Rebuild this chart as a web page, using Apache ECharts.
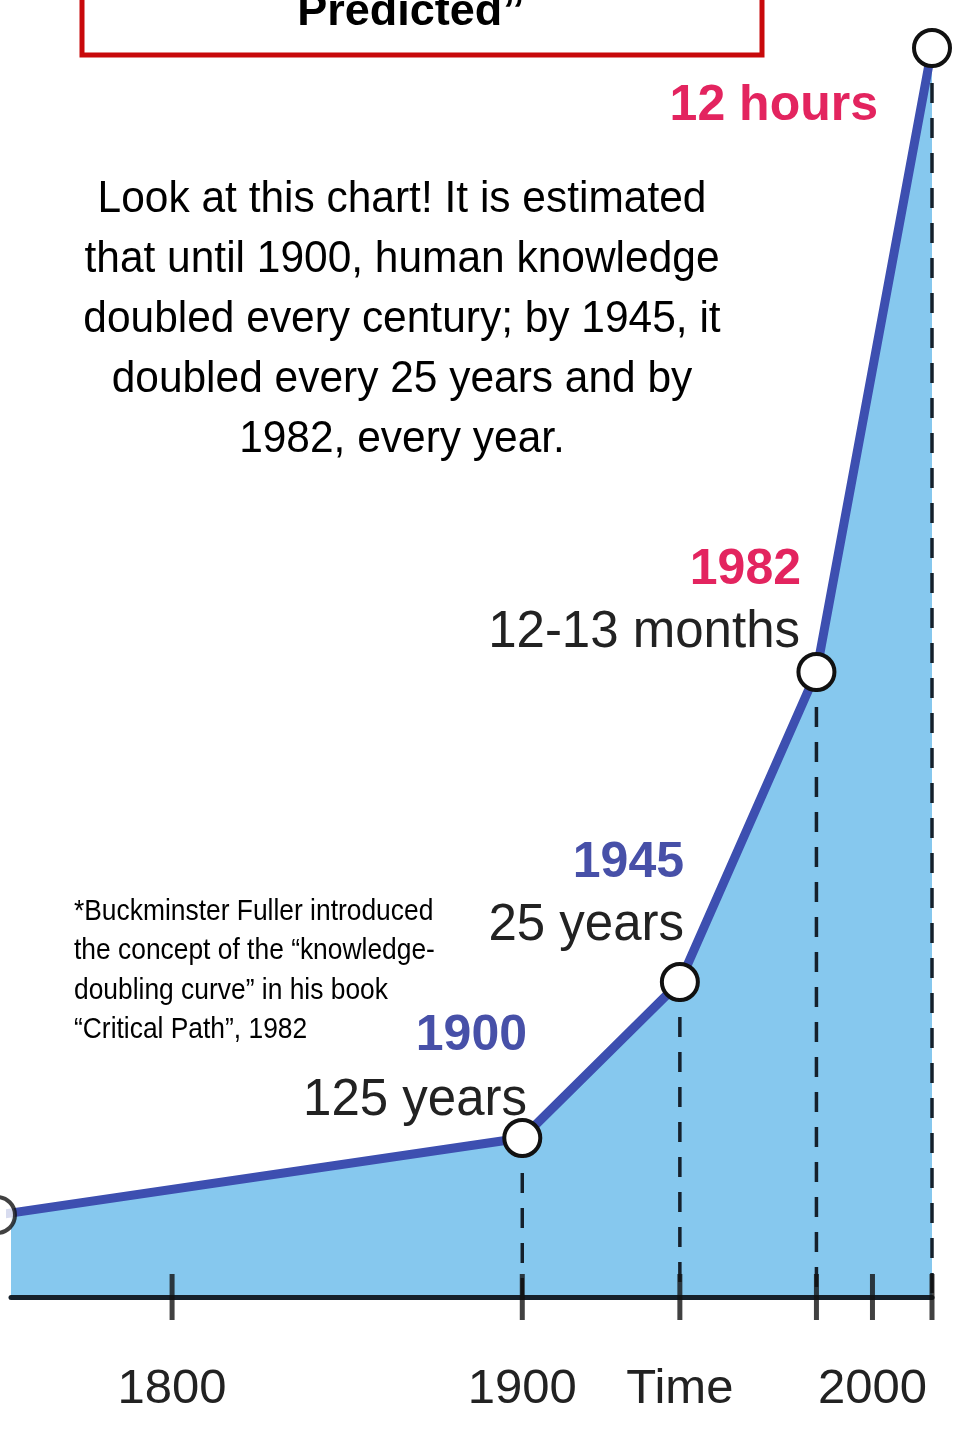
<!DOCTYPE html>
<html><head><meta charset="utf-8">
<script src="https://cdn.jsdelivr.net/npm/echarts@6/dist/echarts.min.js"></script>
<style>html,body{margin:0;padding:0;background:#fff}#c{width:970px;height:1429px}</style>
</head><body><div id="c"></div>
<script>
// Data
const years = [1750, 1900, 1945, 1984, 2017];
const knowledge = [82, 159, 315, 625, 1249];
const dropYears = [1900, 1945, 1984, 2017];
const tickYears = [1800, 1900, 1945, 1984, 2000, 2017];
const axisLabelYears = [1800, 1900, 1945, 2000];
const axisLabelTexts = ['1800', '1900', 'Time', '2000'];
const titleText = 'Predicted\u201D';
const bodyText = ['Look at this chart! It is estimated', 'that until 1900, human knowledge', 'doubled every century; by 1945, it', 'doubled every 25 years and by', '1982, every year.'];
const noteText = ['*Buckminster Fuller introduced', 'the concept of the \u201Cknowledge-', 'doubling curve\u201D in his book', '\u201CCritical Path\u201D, 1982'];
const yearTags = ['1900', '1945', '1982', '12 hours'];
const spanTags = ['125 years', '25 years', '12-13 months'];

const SANS = "'Liberation Sans',Arial,sans-serif";
const PINK = '#e3245f', BLUE = '#4750a8', DARK = '#222';

const pts = years.map((y, i) => [y, knowledge[i]]);
const lookup = {}; years.forEach((y, i) => lookup[y] = knowledge[i]);

const series = [
  { type: 'line', data: pts, symbol: 'none', lineStyle: { width: 0 }, areaStyle: { color: '#86c8ee', opacity: 1 }, z: 1, clip: true, silent: true }
];
dropYears.forEach(y => series.push({
  type: 'line', data: [[y, lookup[y]], [y, 0]], symbol: 'none', z: 2,
  lineStyle: { color: '#15202b', width: 3.5, type: [20, 15] }, silent: true
}));
series.push({ type: 'scatter', data: tickYears.map(y => [y, 0]), symbol: 'rect', symbolSize: [5, 46], itemStyle: { color: '#111' }, z: 4, clip: false, silent: true });
series.push({
  type: 'line', data: pts, symbol: 'circle', symbolSize: 36, z: 5, clip: true, silent: true,
  lineStyle: { color: '#3d4fb0', width: 9 },
  itemStyle: { color: '#fff', borderColor: '#111', borderWidth: 4 }
});
series.push({ type: 'scatter', data: [pts[0]], symbol: 'circle', symbolSize: 36, z: 5, clip: false, silent: true,
  itemStyle: { color: '#fff', borderColor: '#111', borderWidth: 4 } });

function txt(text, x, y, font, color, align) {
  return { type: 'text', x: x, y: y, z: 50, style: { text: text, font: font, fill: color, align: align || 'right', verticalAlign: 'middle' } };
}

const chart = echarts.init(document.getElementById('c'), null, { renderer: 'canvas' });
chart.setOption({
  animation: false,
  grid: { left: 11, right: 38, top: 47, bottom: 132 },
  xAxis: {
    type: 'value', min: 1754, max: 2017, splitLine: { show: false }, z: 3,
    axisLine: { lineStyle: { color: '#16202a', width: 5 } },
    axisTick: { show: false },
    axisLabel: {
      customValues: axisLabelYears, margin: 68, fontSize: 49, color: DARK, fontFamily: SANS,
      formatter: v => axisLabelTexts[axisLabelYears.indexOf(v)] || ''
    }
  },
  yAxis: { type: 'value', min: 0, max: 1250, show: false },
  series: series,
  graphic: [
    { type: 'rect', shape: { x: 82, y: -20, width: 680, height: 75 }, style: { fill: 'none', stroke: '#c8090b', lineWidth: 5 }, z: 50 },
    { type: 'text', x: 411, y: 13, z: 50, style: { text: titleText, font: "bold 45px " + SANS, fill: '#000', align: 'center', verticalAlign: 'middle' } },
    { type: 'text', x: 402, y: 170, scaleX: 0.965, z: 50, style: { text: bodyText.join('\n'), font: "44px " + SANS, fill: '#000', align: 'center', verticalAlign: 'top', lineHeight: 60 } },
    { type: 'text', x: 74, y: 892, scaleX: 0.91, z: 50, style: { text: noteText.join('\n'), font: "29px " + SANS, fill: '#000', align: 'left', verticalAlign: 'top', lineHeight: 39.5 } },
    txt(yearTags[3], 878, 106, "bold 50px " + SANS, PINK),
    txt(yearTags[2], 801, 570, "bold 50px " + SANS, PINK),
    txt(spanTags[2], 800, 633, "51px " + SANS, DARK),
    txt(yearTags[1], 684, 863, "bold 50px " + SANS, BLUE),
    txt(spanTags[1], 684, 926, "51px " + SANS, DARK),
    txt(yearTags[0], 527, 1036, "bold 50px " + SANS, BLUE),
    txt(spanTags[0], 527, 1101, "51px " + SANS, DARK)
  ]
});
</script></body></html>
